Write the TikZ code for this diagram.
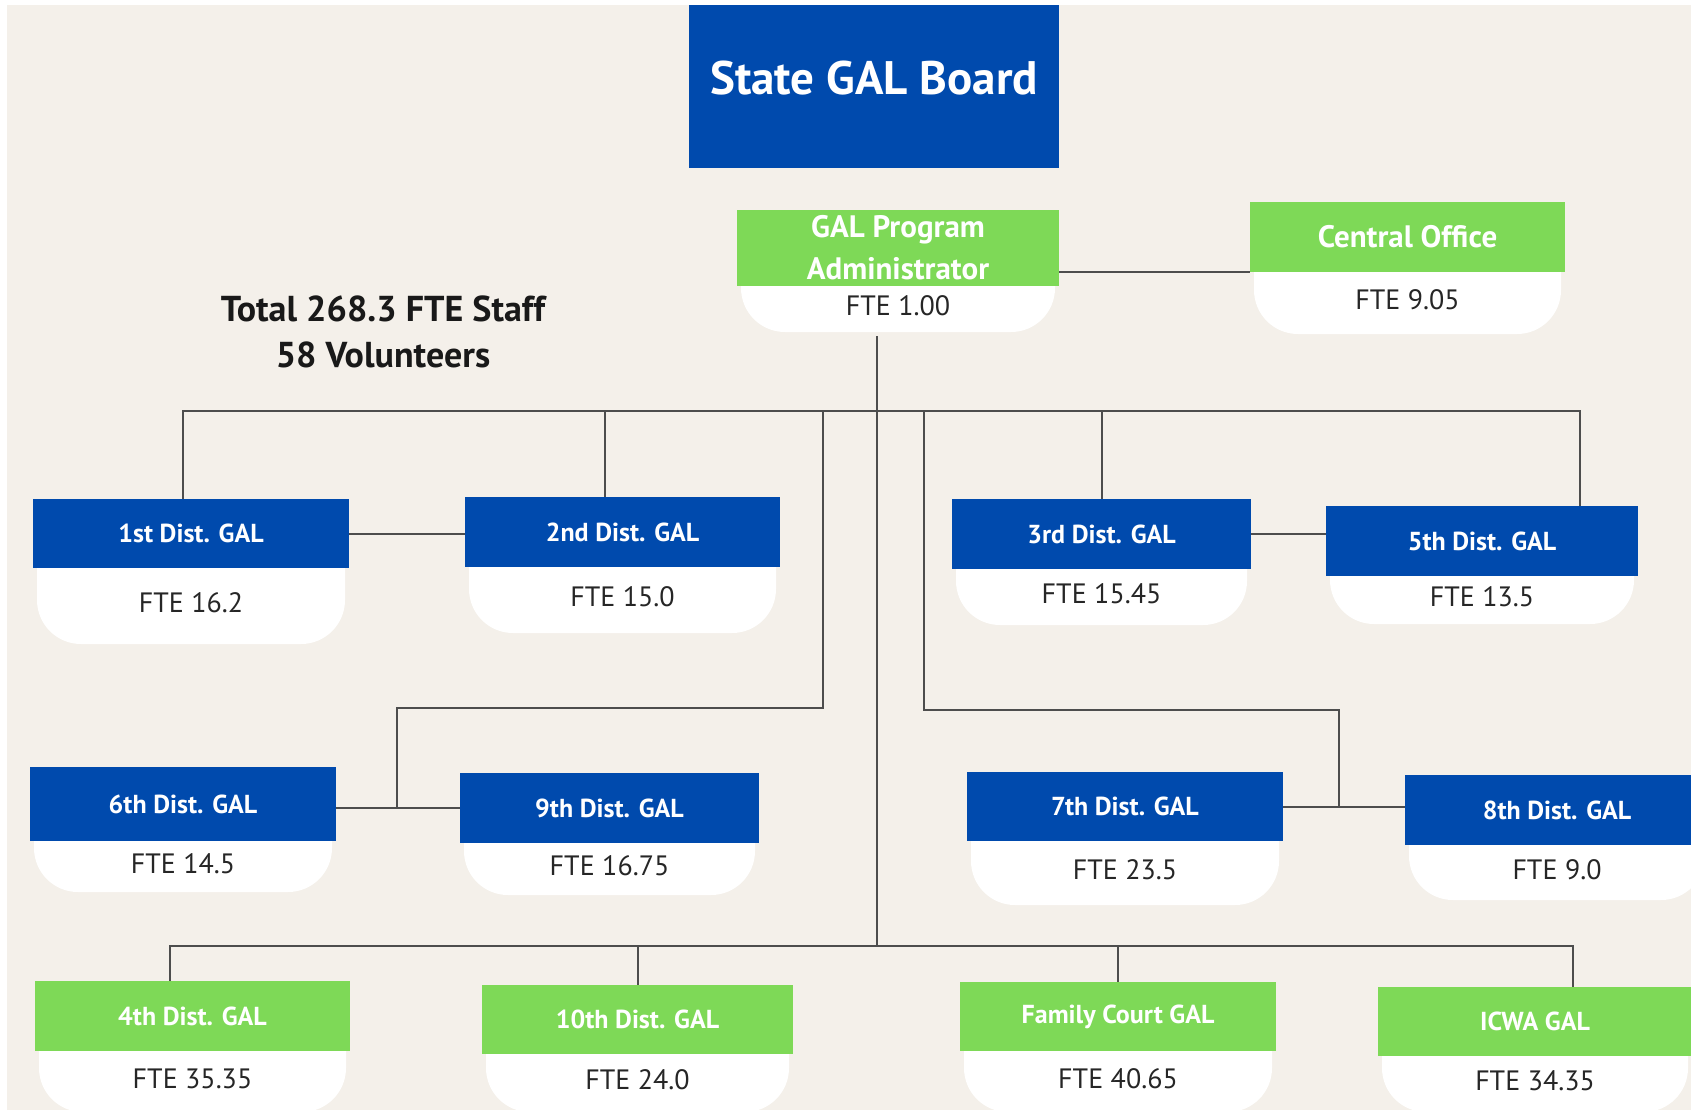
\documentclass[tikz,border=0pt]{standalone}
\usepackage{fontspec}
\setmainfont{PT Sans}

\definecolor{galblue}{HTML}{004AAD}
\definecolor{galgreen}{HTML}{7ED957}
\definecolor{galbg}{HTML}{F4F0EA}
\definecolor{galline}{HTML}{4D4D4D}

% header box with a white rounded FTE part below it
\newcommand{\galunit}[9]{%
  \fill[white, rounded corners=22pt] ({#2-#4/2+4}, #3) -- ({#2-#4/2+4}, #6) -- ({#2+#4/2-4}, #6) -- ({#2+#4/2-4}, #3);
  \node[head, fill=#7, minimum width=#4*0.5pt, minimum height=#5*0.5pt] (#1) at (#2,#3) {#8};
  \node[fte] (#1-fte) at (#2, {(#3+#5/2+#6)/2-3}) {#9};
}

\begin{document}
\begin{tikzpicture}[x=0.5pt, y=-0.5pt,
    head/.style={rectangle, inner sep=0pt, text=white, align=center, font=\bfseries\fontsize{13}{15}\selectfont},
    bighead/.style={font=\bfseries\fontsize{15.5}{21}\selectfont},
    fte/.style={inner sep=0pt, text=black!85, font=\fontsize{14}{16}\selectfont},
    conn/.style={draw=galline, line width=1pt}]
    \useasboundingbox (0,0) rectangle (1691,1110);
    \clip (0,0) rectangle (1691,1110);
    \fill[white] (0,0) rectangle (1691,1110);
    \fill[galbg] (7,5) rectangle (1691,1110);

    \node[head, fill=galblue, minimum width=185pt, minimum height=81.5pt, text height=17pt, text depth=9pt,
        font=\bfseries\fontsize{23.5}{28}\selectfont] (board) at (874,86.5) {State GAL Board};
    \node[font=\bfseries\fontsize{18}{22.75}\selectfont, align=center, text=black!90] (total) at (383,332)
        {Total 268.3 FTE Staff\\58 Volunteers};

    \galunit{admin}{898}{248}{322}{76}{332}{galgreen, bighead}{GAL Program\\Administrator}{FTE 1.00}
    \galunit{central}{1407.5}{237}{315}{70}{334}{galgreen, bighead}{Central Office}{FTE 9.05}

    \galunit{d1}{191}{533.5}{316}{69}{644}{galblue}{1st Dist. GAL}{FTE 16.2}
    \galunit{d2}{622.5}{532}{315}{70}{633}{galblue}{2nd Dist. GAL}{FTE 15.0}
    \galunit{d3}{1101.5}{534}{299}{70}{625}{galblue}{3rd Dist. GAL}{FTE 15.45}
    \galunit{d5}{1482}{541}{312}{70}{624}{galblue}{5th Dist. GAL}{FTE 13.5}

    \galunit{d6}{183}{804}{306}{74}{892}{galblue}{6th Dist. GAL}{FTE 14.5}
    \galunit{d9}{609.5}{808}{299}{70}{895}{galblue}{9th Dist. GAL}{FTE 16.75}
    \galunit{d7}{1125}{806.5}{316}{69}{905}{galblue}{7th Dist. GAL}{FTE 23.5}
    \galunit{d8}{1557}{810}{304}{70}{900}{galblue}{8th Dist. GAL}{FTE 9.0}

    \galunit{d4}{192.5}{1016}{315}{70}{1112}{galgreen}{4th Dist. GAL}{FTE 35.35}
    \galunit{d10}{637.5}{1019.5}{311}{69}{1112}{galgreen}{10th Dist. GAL}{FTE 24.0}
    \galunit{family}{1118}{1016.5}{316}{69}{1112}{galgreen}{Family Court GAL}{FTE 40.65}
    \galunit{icwa}{1535}{1021.5}{314}{69}{1112}{galgreen}{ICWA GAL}{FTE 34.35}

    % lines
    \coordinate (trunktop) at (877,336);
    \coordinate (hub) at (877,946);
    \coordinate (busL) at (183,411);
    \coordinate (busR) at (1580,411);
    \coordinate (leftdrop) at (823,411);
    \coordinate (rightdrop) at (924,411);
    \coordinate (botL) at (170,946);
    \coordinate (botR) at (1573,946);

    \draw[conn] (admin.east |- central.south) -- (central.south west);
    \draw[conn] (trunktop) -- (hub);
    \draw[conn] (busL |- d1.north) -- (busL) -- (busR) -- (busR |- d5.north);
    \draw[conn] ([xshift=-9pt]d2.north) -- ([xshift=-9pt]d2.north |- busL);
    \draw[conn] (d3.north) -- (d3.north |- busL);
    \draw[conn] (d1.east) -- (d1.east -| d2.west);
    \draw[conn] (d3.east) -- (d3.east -| d5.west);
    \draw[conn] (leftdrop) |- (397,707.5) |- (d9.west);
    \draw[conn] (d6.east |- d9.west) -- (d9.west);
    \draw[conn] (rightdrop) |- (1339,709.5) |- (d7.east);
    \draw[conn] (d7.east) -- (d7.east -| d8.west);
    \draw[conn] (botL |- d4.north) -- (botL) -- (botR) -- (botR |- icwa.north);
    \draw[conn] (d10.north) -- (d10.north |- hub);
    \draw[conn] (family.north) -- (family.north |- hub);
\end{tikzpicture}
\end{document}
